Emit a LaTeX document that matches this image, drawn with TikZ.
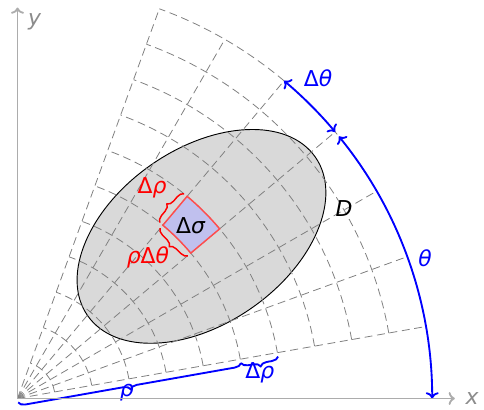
\documentclass[tikz,border=0pt]{standalone}
\usepackage{fontspec}
\setmainfont{DejaVu Sans}
\usetikzlibrary{arrows.meta,decorations.pathreplacing}
\definecolor{cellfill}{RGB}{192,192,238}

\begin{document}
\begin{tikzpicture}[x=1cm,y=1cm,
  font=\fontsize{16.5}{19}\selectfont,
  axis/.style={gray!65,line width=1.4pt,-{To}},
  gridline/.style={gray,line width=0.6pt,dash pattern=on 6pt off 3.5pt},
  region/.style={draw=black,fill=gray!30,line width=0.7pt},
  cell/.style={draw=red!70,fill=cellfill,line width=1.1pt},
  bracered/.style={red,line width=1.1pt,decorate,decoration={brace,amplitude=5pt,raise=3pt}},
  braceblue/.style={blue,line width=1.4pt,decorate,decoration={brace,amplitude=5pt,raise=3pt}},
  anglearc/.style={blue,line width=1.4pt,{To}-{To}}]
  \useasboundingbox (-0.464,-0.279) rectangle (12.374,10.570);
  \coordinate (O) at (0,0);
  \coordinate (xend) at (11.6,0);
  \coordinate (yend) at (0,10.37);
  \draw[region,rotate around={34.8:(4.88,4.30)}] (4.88,4.30) ellipse[x radius=3.68,y radius=2.32];
  \foreach \a in {10,20,...,70}
    \draw[gridline] (O) -- (\a:11);
  \foreach \r in {1,...,11}
    \draw[gridline] (10:\r) arc[start angle=10,end angle=70,radius=\r];
  \draw[cell] (40:6) arc[start angle=40,end angle=50,radius=6] -- (50:7)
    arc[start angle=50,end angle=40,radius=7] -- cycle;
  \node (dsigma) at (45:6.5) {Δ\textit{σ}};
  \node (D) at (8.66,5.05) {\textit{D}};
  \draw[bracered] (50:6) -- (50:7);
  \draw[bracered] (40:6) -- (50:6);
  \node[red] (drho) at (3.57,5.58) {Δ\textit{ρ}};
  \node[red] (rhodtheta) at (3.46,3.73) {\textit{ρ}Δ\textit{θ}};
  \draw[braceblue] (10:6) -- (O);
  \draw[braceblue] (10:7) -- (10:6);
  \node[blue] (rho) at (2.90,0.15) {\textit{ρ}};
  \node[blue] (drhoaxis) at (6.43,0.68) {Δ\textit{ρ}};
  \draw[anglearc] (0:11) arc[start angle=0,end angle=39.2,radius=11];
  \draw[anglearc] (40:11) arc[start angle=40,end angle=50,radius=11];
  \node[blue] (dtheta) at (7.97,8.50) {Δ\textit{θ}};
  \node[blue] (theta) at (10.81,3.73) {\textit{θ}};
  \draw[axis] (O) -- (xend);
  \draw[axis] (O) -- (yend);
  \node[gray!90] (xlabel) at (12.06,0) {\textit{x}};
  \node[gray!90] (ylabel) at (0.46,9.99) {\textit{y}};
\end{tikzpicture}
\end{document}
